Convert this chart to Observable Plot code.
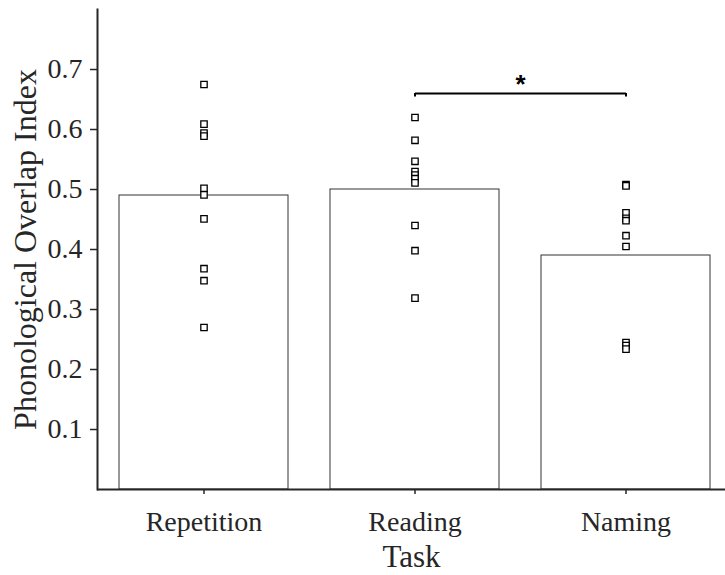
<!DOCTYPE html>
<html>
<head>
<meta charset="utf-8">
<script src="https://cdn.jsdelivr.net/npm/d3@7"></script>
<script src="https://cdn.jsdelivr.net/npm/@observablehq/plot@0.6"></script>
<style>
  html, body { margin: 0; padding: 0; background: #fff; }
  #chart svg { display: block; }
</style>
</head>
<body>
<div id="chart"></div>
<script>
const tasks = ["Repetition", "Reading", "Naming"];
const means = [0.49, 0.50, 0.39];
const repetitionPoints = [0.675, 0.609, 0.594, 0.589, 0.502, 0.491, 0.451, 0.368, 0.348, 0.270];
const readingPoints = [0.620, 0.582, 0.547, 0.530, 0.524, 0.518, 0.511, 0.440, 0.398, 0.319];
const namingPoints = [0.508, 0.506, 0.461, 0.452, 0.448, 0.423, 0.405, 0.245, 0.240, 0.234];
const yTicks = [0.1, 0.2, 0.3, 0.4, 0.5, 0.6, 0.7];
const sigPair = ["Reading", "Naming"];
const sigLevel = 0.66;
const sigLabel = "*";

const bars = tasks.map((t, i) => ({task: t, value: means[i]}));
const pointSets = [repetitionPoints, readingPoints, namingPoints];
const points = tasks.flatMap((t, i) => pointSets[i].map(v => ({task: t, value: v})));

const font = "'Liberation Serif', 'Times New Roman', serif";
const axisColor = "#262626";

const chart = Plot.plot({
  width: 725,
  height: 575,
  marginTop: 9,
  marginLeft: 97,
  marginRight: 0,
  marginBottom: 86,
  style: {fontFamily: font, fontSize: "28px", color: axisColor, background: "#fff"},
  x: {type: "band", domain: tasks, range: [97, 731], paddingInner: 0.2, paddingOuter: 0.1, label: null},
  y: {domain: [0, 0.8], label: null},
  marks: [
    Plot.barY(bars, {x: "task", y: "value", fill: "white", stroke: "#333", strokeWidth: 1}),
    Plot.dot(points, {x: "task", y: "value", symbol: "square", r: 3.6, fill: "white", stroke: "black", strokeWidth: 1.3}),
    Plot.link([{a: sigPair[0], b: sigPair[1]}], {x1: "a", x2: "b", y1: () => sigLevel, y2: () => sigLevel, stroke: "black", strokeWidth: 2}),
    Plot.ruleX(sigPair, {x: d => d, y1: sigLevel - 0.006, y2: sigLevel, stroke: "black", strokeWidth: 2}),
    Plot.text([sigLabel], {x: () => sigPair[0], y: () => sigLevel, dx: 105.5, dy: -1, text: d => d, fontSize: 26, fontWeight: "bold", fontFamily: "'Liberation Sans', Arial, sans-serif", lineAnchor: "bottom", fill: "black"}),
    Plot.axisY({ticks: yTicks, tickFormat: d => d.toFixed(1), tickSize: 7, tickPadding: 8, stroke: axisColor, strokeWidth: 1.5, fill: axisColor, label: null, fontSize: 28}),
    Plot.axisY({ticks: [], label: "Phonological Overlap Index", labelAnchor: "center", labelArrow: "none", labelOffset: 84, fill: axisColor, fontSize: 32}),
    Plot.axisX({tickSize: 5, tickPadding: 17, stroke: axisColor, strokeWidth: 1.5, fill: axisColor, label: null, fontSize: 28}),
    Plot.axisX({ticks: [], label: "Task", labelAnchor: "center", labelArrow: "none", labelOffset: 77, fill: axisColor, fontSize: 31}),
    Plot.ruleY([0], {stroke: axisColor, strokeWidth: 2}),
    Plot.frame({anchor: "left", stroke: axisColor, strokeWidth: 2})
  ]
});
document.getElementById("chart").appendChild(chart);
</script>
</body>
</html>
